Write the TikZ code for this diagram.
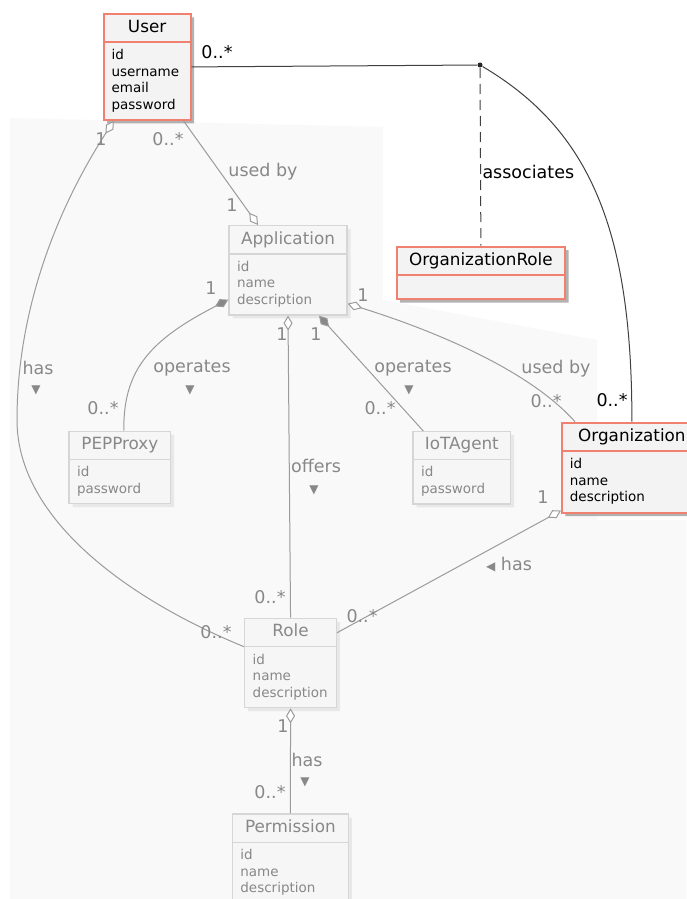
\documentclass[tikz,border=0pt]{standalone}
\usepackage{fontspec}
\setmainfont{DejaVu Sans}
\usepackage{tikz}
\usetikzlibrary{shapes.multipart,shadows,arrows.meta}

\definecolor{umlred}{RGB}{240,128,112}
\definecolor{boxfill}{RGB}{243,243,243}
\definecolor{fadeborder}{RGB}{214,214,214}
\definecolor{fadefill}{RGB}{246,246,246}
\definecolor{fadetext}{RGB}{136,136,136}
\definecolor{fadeline}{RGB}{155,155,155}
\definecolor{bgfaint}{RGB}{249,249,249}

\newcommand\classname[1]{{\fontsize{16.8}{14}\selectfont\centering\strut#1\par}}
\newcommand\classattrs[1]{{\fontsize{13.5}{16.5}\selectfont\strut#1\strut\par}}
\newcommand\lblfont{\fontsize{17.5}{20}\selectfont}

\begin{document}
\begin{tikzpicture}[
      x=1pt, y=-1pt, line width=1pt,
      classbox/.style={rectangle split, rectangle split parts=2, anchor=north west,
        inner xsep=8pt, inner ysep=5pt, align=left, text width=#1},
      active/.style={draw=umlred, line width=1.8pt, fill=boxfill, text=black,
        drop shadow={shadow xshift=3.5pt, shadow yshift=-3.5pt, fill=black!50, opacity=.6}},
      faded/.style={draw=fadeborder, line width=1.4pt, fill=fadefill, text=fadetext,
        drop shadow={shadow xshift=3.5pt, shadow yshift=-3.5pt, fill=black!15}},
      lbl/.style={inner sep=0pt, font=\lblfont, text=fadetext},
      darklbl/.style={lbl, text=black},
      tri/.style={inner sep=0pt, text=fadetext, font=\fontsize{12}{12}\selectfont},
      link/.style={draw=fadeline, line width=1pt},
      darklink/.style={draw=black!75, line width=1pt},
      odia/.tip={Diamond[length=15pt, width=9pt, fill=white]},
      fdia/.tip={Diamond[length=15pt, width=9pt, fill=fadetext]}
      ]

      \fill[white] (0,0) rectangle (686,899);
      \useasboundingbox (0,0) rectangle (686,899);
      % faded part of the model
      \fill[bgfaint] (10,118) -- (383,127) -- (383,300) -- (597,340) -- (597,520) -- (686,520)
        -- (686,899) -- (10,899) -- cycle;

      \node[classbox=71pt, active] (user) at (102.7,13)
        {\classname{User}\nodepart{two}\classattrs{id\\username\\email\\password}};
      \node[classbox=152.6pt, active] (orgrole) at (395.7,245.7)
        {\classname{OrganizationRole}\nodepart{two}\rule{0pt}{12pt}};
      \node[classbox=124pt, active] (org) at (561,421.7)
        {\classname{Organization}\nodepart{two}\classattrs{id\\name\\description}};

      \path node[classbox=102pt, faded] (app) at (228.3,225)
        {\classname{Application}\nodepart{two}\classattrs{id\\name\\description}};
      \path node[classbox=85.7pt, faded] (pep) at (68.3,430.7)
        {\classname{PEPProxy}\nodepart{two}\classattrs{id\\password}};
      \path node[classbox=81.7pt, faded] (iot) at (412.3,431)
        {\classname{IoTAgent}\nodepart{two}\classattrs{id\\password}};
      \path node[classbox=75.7pt, faded] (role) at (244,617.7)
        {\classname{Role}\nodepart{two}\classattrs{id\\name\\description}};
      \path node[classbox=100pt, faded] (perm) at (231.7,813.3)
        {\classname{Permission}\nodepart{two}\classattrs{id\\name\\description}};

      \node[circle, fill=black!85, inner sep=0pt, minimum size=5pt] (assocdot) at (480,65) {};
      \draw[darklink] (user.east) -- (assocdot);
      \draw[darklink, dash pattern=on 10pt off 6pt] (assocdot) -- (orgrole.north);
      \draw[darklink] (assocdot) .. controls (590,130) and (632,230) .. (org.north);

      \draw[link, odia-] ([xshift=11pt]user.south west) .. controls (50,220) and (17,320) .. (17,420)
        .. controls (17,520) and (130,600) .. ([yshift=-29pt]role.north west);
      \draw[link, odia-] ([xshift=-30pt]app.north) -- ([xshift=-8pt]user.south east);
      \draw[link, fdia-] ([yshift=16pt]app.south west) .. controls (150,340) and (123,370) .. ([xshift=4pt]pep.north);
      \draw[link, odia-] (app.south) -- (role.north);
      \draw[link, fdia-] ([xshift=31pt]app.south) -- ([xshift=11pt]iot.north west);
      \draw[link, odia-] ([yshift=12pt]app.south east) .. controls (400,320) and (520,360) .. ([xshift=14pt]org.north west);
      \draw[link, odia-] ([yshift=3pt]org.south west) -- ([yshift=-15pt]role.north east);
      \draw[link, odia-] (role.south) -- (perm.north);

      \node[darklbl] (mUserAssoc) at (217,52) {0..*};
      \node[darklbl, anchor=west] (assocLbl) at (482,172) {associates};
      \node[darklbl] (mOrgAssoc) at (612,400) {0..*};

      \node[lbl] (mUserHas) at (101,139) {1};
      \node[lbl] (hasUserRole) at (38,368) {has};
      \node[tri] (triUserRole) at (36,390) {▼};
      \node[lbl] (mRoleUser) at (216,632) {0..*};

      \node[lbl] (mUserUsed) at (168,139) {0..*};
      \node[lbl] (usedByUser) at (263,172) {used by};
      \node[lbl] (mAppUser) at (232,205) {1};

      \node[lbl] (mAppPep) at (211,288) {1};
      \node[lbl] (operPep) at (192,368) {operates};
      \node[tri] (triPep) at (190,390) {▼};
      \node[lbl] (mPep) at (103,408) {0..*};

      \node[lbl] (mAppRole) at (282,334) {1};
      \node[lbl] (offersLbl) at (316,466) {offers};
      \node[tri] (triOffers) at (314,490) {▼};
      \node[lbl] (mRoleApp) at (270,597) {0..*};

      \node[lbl] (mAppIot) at (316,334) {1};
      \node[lbl] (operIot) at (413,368) {operates};
      \node[tri] (triIot) at (409,390) {▼};
      \node[lbl] (mIot) at (380,408) {0..*};

      \node[lbl] (mAppOrg) at (363,295) {1};
      \node[lbl] (usedByOrg) at (556,369) {used by};
      \node[lbl] (mOrgApp) at (546,401) {0..*};

      \node[lbl] (mOrgRole) at (543,497) {1};
      \node[lbl] (hasOrgRole) at (509,565) {{\fontsize{12}{12}\selectfont◀}\ has};
      \node[lbl] (mRoleOrg) at (362,616) {0..*};

      \node[lbl] (mRolePerm) at (283,726) {1};
      \node[lbl] (hasPerm) at (307,760) {has};
      \node[tri] (triPerm) at (305,782) {▼};
      \node[lbl] (mPerm) at (270,792) {0..*};
    \end{tikzpicture}
\end{document}
